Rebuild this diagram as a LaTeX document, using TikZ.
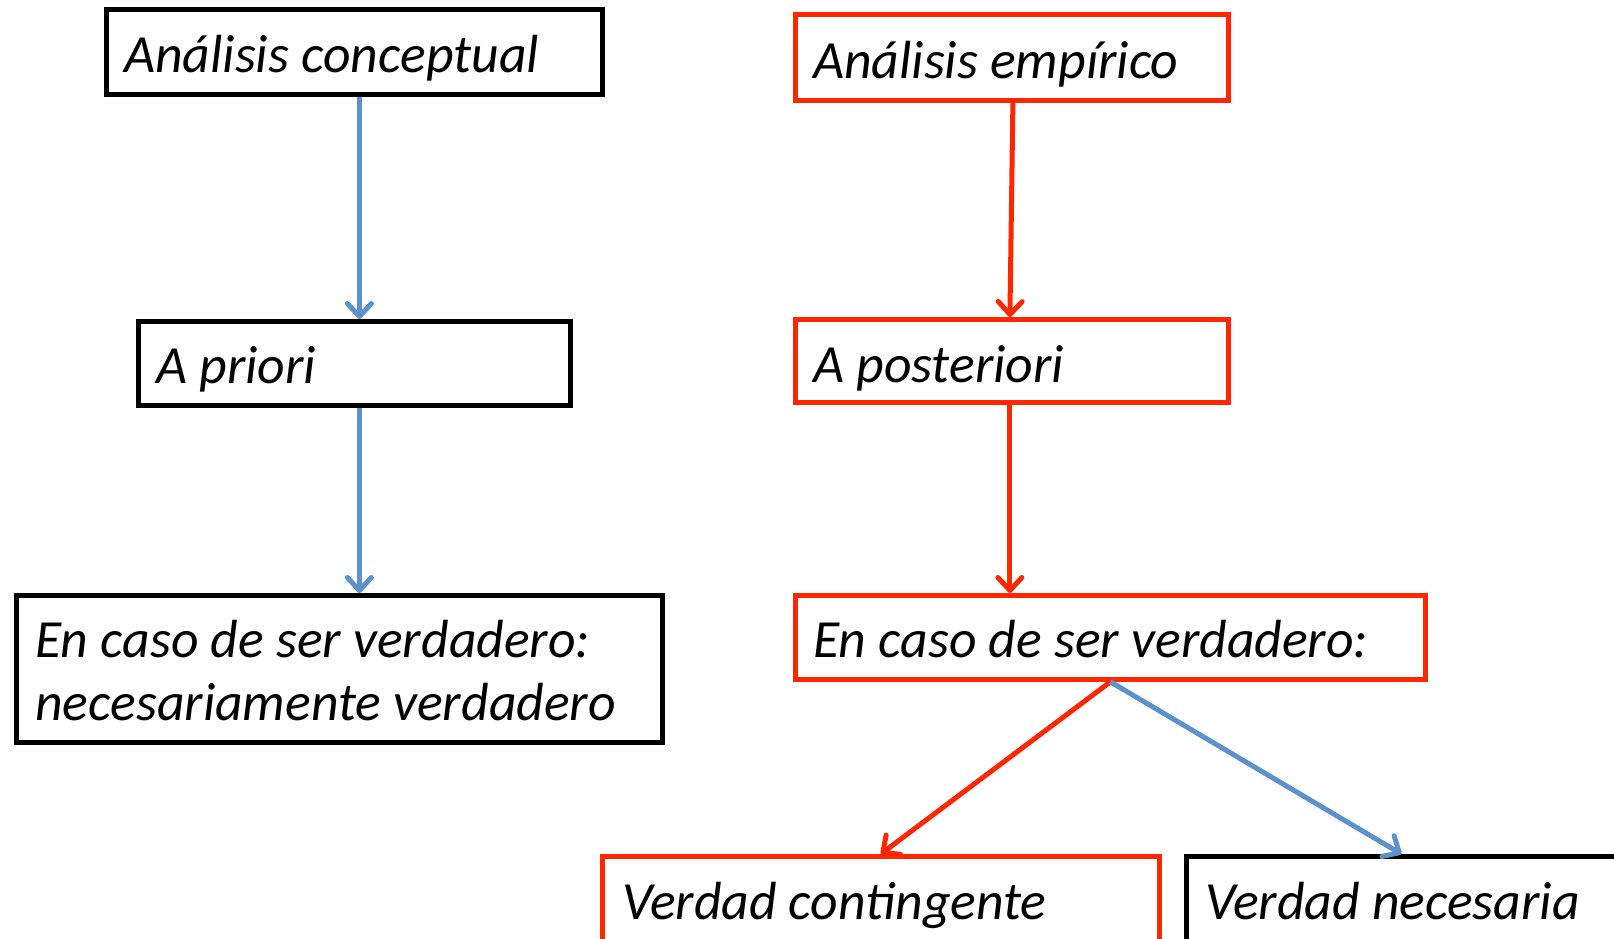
\documentclass[tikz,border=0pt]{standalone}
\usepackage{fontspec}
\setmainfont{Carlito}
\usetikzlibrary{arrows.meta}
\definecolor{myred}{RGB}{255,38,0}
\definecolor{myblue}{RGB}{92,146,204}
\tikzset{
  box/.style={draw=black, line width=4.8pt, rectangle, inner sep=0pt},
  redbox/.style={box, draw=myred},
  txt/.style={inner sep=0pt, anchor=base west, font=\fontsize{53.7}{63}\selectfont\itshape},
  conn/.style={line width=5pt, -{Straight Barb[length=13pt,width=24pt,line width=5pt,round]}},
  blueconn/.style={conn, draw=myblue},
  redconn/.style={conn, draw=myred},
}
\begin{document}
\begin{tikzpicture}[x=1pt,y=-1pt]
\useasboundingbox (0,0) rectangle (1614,939);
% left column
\node[box, anchor=north west, minimum width=496pt, minimum height=85pt] (ac) at (104,7) {};
\node[txt] (acT) at (124,73) {Análisis conceptual};
\node[box, anchor=north west, minimum width=432pt, minimum height=84pt] (ap) at (136,319) {};
\node[txt] (apT) at (156,383) {A priori};
\node[box, anchor=north west, minimum width=646pt, minimum height=147pt] (cn) at (14,593) {};
\node[txt] (cnT1) at (35,657) {En caso de ser verdadero:};
\node[txt] (cnT2) at (35,720) {necesariamente verdadero};
% right column
\node[redbox, anchor=north west, minimum width=433pt, minimum height=86pt] (ae) at (793,12) {};
\node[txt] (aeT) at (813,79) {Análisis empírico};
\node[redbox, anchor=north west, minimum width=433pt, minimum height=83pt] (apo) at (793,317) {};
\node[txt] (apoT) at (813,382) {A posteriori};
\node[redbox, anchor=north west, minimum width=630pt, minimum height=84pt] (cv) at (793,593) {};
\node[txt] (cvT) at (813,657) {En caso de ser verdadero:};
\node[redbox, anchor=north west, minimum width=557pt, minimum height=143pt] (vc) at (600,854) {};
\node[txt] (vcT) at (622,919) {Verdad contingente};
\node[box, anchor=north west, minimum width=456pt, minimum height=143pt] (vn) at (1184,854) {};
\node[txt] (vnT) at (1205,919) {Verdad necesaria};
% connectors
\draw[blueconn] ([xshift=5pt]ac.south) -- ([xshift=5pt]ap.north);
\draw[blueconn] ([xshift=5pt]ap.south) -- ([xshift=5pt]ap.south |- cn.north);
\draw[redconn] ([xshift=1pt]ae.south) -- ([xshift=-2pt]apo.north);
\draw[redconn] ([xshift=-2pt]apo.south) -- ([xshift=-2pt]apo.south |- cv.north);
\draw[redconn] (cv.south) -- (vc.north);
\draw[blueconn] (cv.south) -- ([xshift=-13pt]vn.north);
\end{tikzpicture}
\end{document}
